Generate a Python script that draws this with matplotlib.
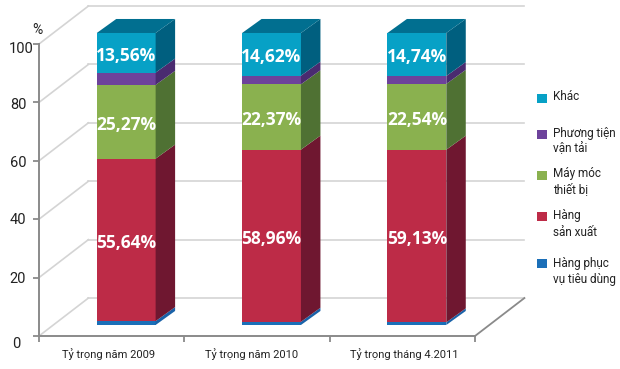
import matplotlib.pyplot as plt
import numpy as np

plt.rcParams["font.family"] = ["Roboto", "DejaVu Sans"]

categories = ["Tỷ trọng năm 2009", "Tỷ trọng năm 2010", "Tỷ trọng tháng 4.2011"]

tieu_dung = [1.33, 1.1, 0.9]
san_xuat = [55.64, 58.96, 59.13]
may_moc = [25.27, 22.37, 22.54]
van_tai = [4.2, 2.95, 2.69]
khac = [13.56, 14.62, 14.74]

yticks = [0, 20, 40, 60, 80, 100]

# bottom to top
series = [tieu_dung, san_xuat, may_moc, van_tai, khac]
front_colors = ["#1b6fb8", "#bd2b47", "#8ab14f", "#6d429b", "#07a1c6"]
side_colors = ["#1a62a8", "#6f1730", "#4f7133", "#4a2b70", "#005f7f"]
top_color = "#016f90"
show_label = [False, True, True, False, True]

legend_labels = ["Khác", "Phương tiện\nvận tải", "Máy móc\nthiết bị", "Hàng\nsản xuất", "Hàng phục\nvụ tiêu dùng"]
legend_colors = ["#07a1c6", "#6d429b", "#8ab14f", "#bd2b47", "#1b6fb8"]
legend_y = [98, 134, 176, 216, 263]
legend_text_y = [97, 141, 182, 224, 272]

grid_light = "#d4d4d4"
axis_grey = "#8a8a8a"

fig = plt.figure(figsize=(6.2, 3.69), dpi=100)
ax = fig.add_axes([39 / 620, 33 / 369, 436 / 620, 292 / 369])
ax.set_xlim(-0.6, 2.4)
ax.set_ylim(0, 100)

# depth of the fake 3d
wall_dx, wall_dy = 0.34, 13.0
bar_dx, bar_dy = 0.134, 4.8
floor_lift = 3.77
bar_w = 0.405

x0, x1 = ax.get_xlim()
for v in yticks:
    ax.plot([x0, x0 + wall_dx], [v, v + wall_dy], color=grid_light, lw=1.2, clip_on=False, zorder=1)
    ax.plot([x0 + wall_dx, x1 + wall_dx], [v + wall_dy, v + wall_dy], color=grid_light, lw=1.2, clip_on=False, zorder=1)
ax.plot([x1, x1 + wall_dx], [0, wall_dy], color=axis_grey, lw=1.3, clip_on=False, zorder=1)

x = np.arange(len(categories))
bottom = np.full(len(categories), floor_lift)
for vals, fc, sc, lab in zip(series, front_colors, side_colors, show_label):
    vals = np.array(vals)
    ax.bar(x, vals, bar_w, bottom=bottom, color=fc, clip_on=False, zorder=3)
    for xi, b, v in zip(x, bottom, vals):
        r = xi + bar_w / 2
        ax.fill([r, r + bar_dx, r + bar_dx, r],
                [b, b + bar_dy, b + v + bar_dy, b + v],
                color=sc, lw=0, clip_on=False, zorder=3)
        if lab:
            ax.text(xi, b + v / 2 - 1, f"{v:.2f}%".replace(".", ","), color="white",
                    ha="center", va="center", fontsize=12.5, fontweight="bold",
                    family="Open Sans", zorder=5)
    bottom = bottom + vals

for xi, b in zip(x, bottom):
    l, r = xi - bar_w / 2, xi + bar_w / 2
    ax.fill([l, r, r + bar_dx, l + bar_dx], [b, b, b + bar_dy, b + bar_dy],
            color=top_color, lw=0, clip_on=False, zorder=3)

for s in ["top", "right"]:
    ax.spines[s].set_visible(False)
for s in ["left", "bottom"]:
    ax.spines[s].set_color(axis_grey)
    ax.spines[s].set_linewidth(1.4)

ax.set_yticks(yticks)
ax.set_yticklabels([])
ax.set_xticks(np.arange(4) - 0.6)
ax.set_xticklabels([])
ax.tick_params(axis="both", color=axis_grey, width=1.3, length=4)

y_shift = [(-23, -8), (-21, -1), (-21, -1), (-21, -2), (-21, -3), (-18, -5)]
for v, (dx, dy) in zip(yticks, y_shift):
    ax.annotate(str(v), (x0, v), xytext=(dx, dy), textcoords="offset pixels",
                ha="center", va="center", fontsize=10.5, color="#222222", annotation_clip=False)
ax.annotate("%", (x0, 100), xytext=(-2, 14), textcoords="offset pixels",
            ha="center", va="center", fontsize=10, color="#222222", annotation_clip=False)

cat_shift = [-18, -20, -13]
for xi, lab, dx in zip(x, categories, cat_shift):
    ax.annotate(lab, (xi, 0), xytext=(dx, -18), textcoords="offset pixels",
                ha="center", va="center", fontsize=8, color="#222222", annotation_clip=False)

for lab, c, ys, yt in zip(legend_labels, legend_colors, legend_y, legend_text_y):
    fig.patches.append(plt.Rectangle((537 / 620, 1 - (ys + 4.5) / 369), 9.5 / 620, 9 / 369,
                                     transform=fig.transFigure, color=c, lw=0))
    fig.text(553 / 620, 1 - yt / 369, lab, ha="left", va="center", fontsize=8.5,
             color="#222222", linespacing=1.3)

fig.savefig("out.png", dpi=100)
